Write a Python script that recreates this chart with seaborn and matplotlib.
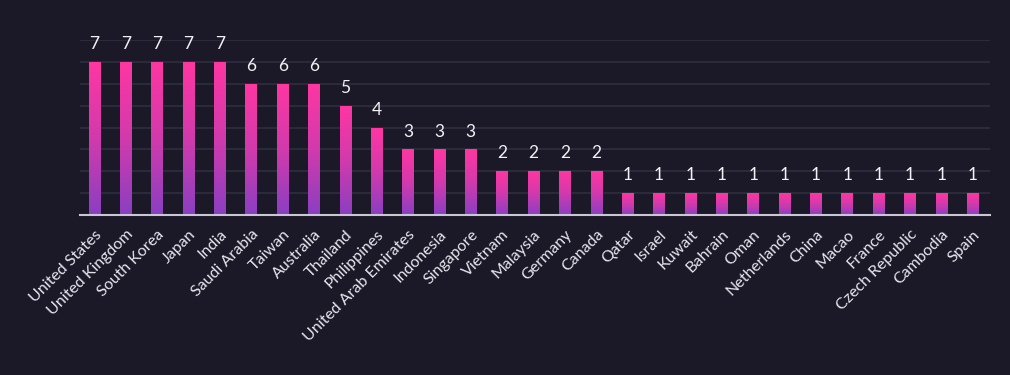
import matplotlib
matplotlib.use("Agg")
import matplotlib.pyplot as plt
import seaborn as sns
import numpy as np
import pandas as pd
from matplotlib.colors import LinearSegmentedColormap

countries = ["United States", "United Kingdom", "South Korea", "Japan", "India",
             "Saudi Arabia", "Taiwan", "Australia", "Thailand", "Philippines",
             "United Arab Emirates", "Indonesia", "Singapore", "Vietnam", "Malaysia",
             "Germany", "Canada", "Qatar", "Israel", "Kuwait", "Bahrain", "Oman",
             "Netherlands", "China", "Macao", "France", "Czech Republic", "Cambodia", "Spain"]
values = [7, 7, 7, 7, 7, 6, 6, 6, 5, 4, 3, 3, 3, 2, 2, 2, 2,
          1, 1, 1, 1, 1, 1, 1, 1, 1, 1, 1, 1]

BG = "#1b1928"
sns.set_theme(style="dark")
plt.rcParams['font.family'] = ['Lato', 'DejaVu Sans']

df = pd.DataFrame({"country": countries, "value": values})

fig = plt.figure(figsize=(10.1, 3.75), dpi=100, facecolor=BG)
ax = fig.add_axes([80/1010, 1-215/375, 910/1010, 175/375])
ax.set_facecolor(BG)

sns.barplot(data=df, x="country", y="value", ax=ax, width=0.37,
            color="#ff3399", edgecolor="none", zorder=3)

cmap = LinearSegmentedColormap.from_list("g", ["#8a3fc2", "#d23aad", "#ff36a2"])
grad = np.linspace(0, 1, 512).reshape(-1, 1)
for p in ax.patches:
    x0, y0 = p.get_x(), p.get_y()
    w, h = p.get_width(), p.get_height()
    im = ax.imshow(grad, extent=[x0, x0 + w, y0, y0 + h], origin="lower",
                   aspect="auto", cmap=cmap, zorder=3, interpolation="bilinear")
    im.set_clip_path(p)
    p.set_facecolor("none")
    ax.text(x0 + w / 2, y0 + h + 0.45, f"{int(h)}", ha="center", va="bottom",
            color="#f2f2f5", fontsize=12.5, zorder=4)

n = len(countries)
ax.set_xlim(-0.46, n - 1 + 0.55)
ax.set_ylim(0, 8)
ax.grid(False)
for yv in range(1, 9):
    ax.axhline(yv, color="#2f2e3e", linewidth=1.2, zorder=0.2)
ax.tick_params(axis="y", left=False, labelleft=False)
ax.tick_params(axis="x", bottom=False, pad=3)
ax.set_xticks(range(n))
ax.set_xticklabels(countries, rotation=45, ha="right", rotation_mode="anchor",
                   color="#e6e6ee", fontsize=11.5)
ax.set_xlabel("")
ax.set_ylabel("")
for s in ["top", "right", "left"]:
    ax.spines[s].set_visible(False)
ax.spines["bottom"].set_color("#c9c8d2")
ax.spines["bottom"].set_linewidth(1.5)
ax.spines["bottom"].set_zorder(5)

fig.savefig("out.png", dpi=100, facecolor=BG)
